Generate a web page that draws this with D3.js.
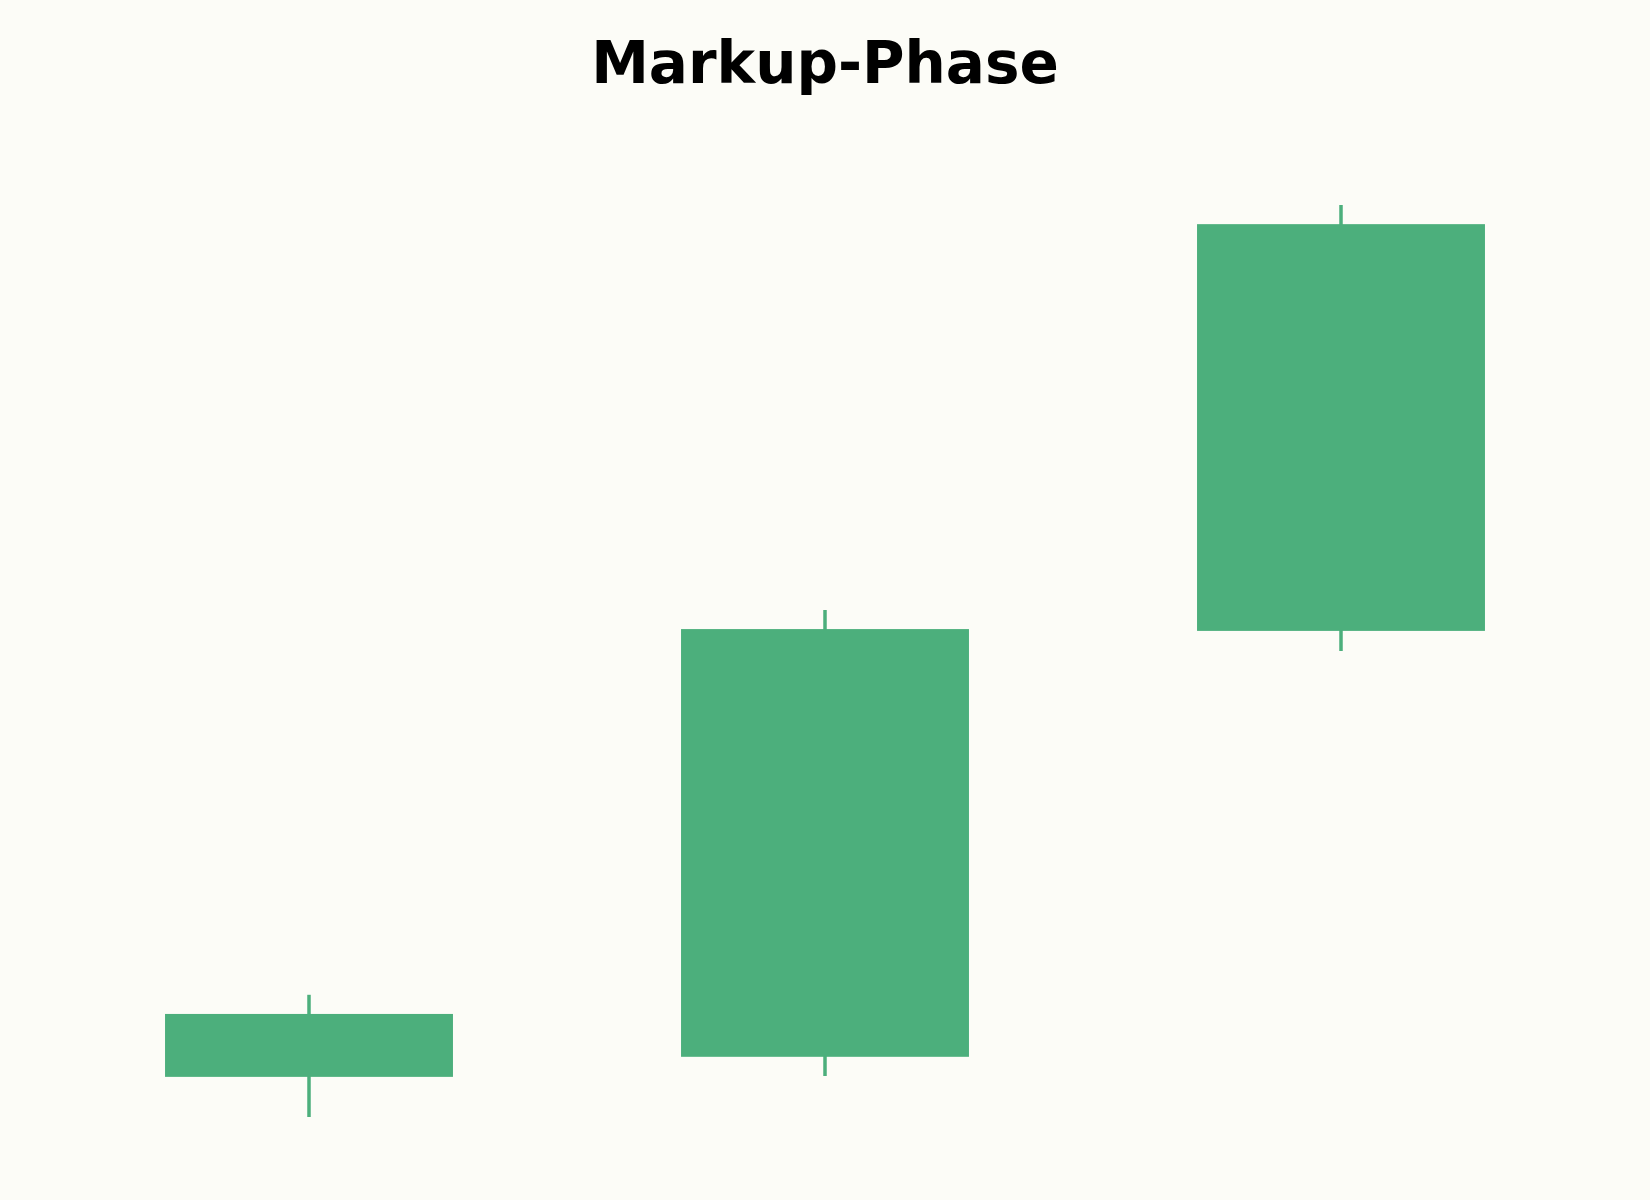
<!DOCTYPE html>
<html>
<head>
<meta charset="utf-8">
<script src="https://cdn.jsdelivr.net/npm/d3@7"></script>
<style>
  html, body { margin: 0; padding: 0; background: #fcfcf7; }
</style>
</head>
<body>
<div id="chart"></div>
<script>
// candles of the markup phase
const days = ["Tag 1", "Tag 2", "Tag 3"];
const opens = [104.4, 106.6, 153.3];
const highs = [113.4, 155.6, 200.0];
const lows = [100.0, 104.5, 151.1];
const closes = [111.3, 153.5, 197.9];

let width = 1650, height = 1200;
let margin = {top: 205, right: 51, bottom: 83, left: 51};
let up = "#4caf7c";

let svg = d3.select("#chart").append("svg")
    .attr("width", width)
    .attr("height", height)
    .style("background", "#fcfcf7");

let x = d3.scalePoint()
    .domain(days)
    .range([margin.left, width - margin.right])
    .padding(0.5);

let y = d3.scaleLinear()
    .domain([d3.min(lows), d3.max(highs)])
    .range([height - margin.bottom, margin.top]);

let boxW = x.step() * 0.558;

let candles = days.map((d, i) => ({day: d, o: opens[i], h: highs[i], l: lows[i], c: closes[i]}));

let g = svg.append("g");

// wicks first, the body covers them
g.selectAll("line.wick")
    .data(candles)
    .join("line")
    .attr("class", "wick")
    .attr("x1", d => x(d.day))
    .attr("x2", d => x(d.day))
    .attr("y1", d => y(d.h))
    .attr("y2", d => y(d.l))
    .attr("stroke", up)
    .attr("stroke-width", 3.5);

g.selectAll("rect.body")
    .data(candles)
    .join("rect")
    .attr("class", "body")
    .attr("x", d => x(d.day) - boxW / 2)
    .attr("width", boxW)
    .attr("y", d => y(Math.max(d.o, d.c)))
    .attr("height", d => Math.abs(y(d.o) - y(d.c)))
    .attr("fill", up);

svg.append("text")
    .attr("x", width / 2)
    .attr("y", 83)
    .attr("text-anchor", "middle")
    .style("font-family", "DejaVu Sans")
    .style("font-weight", "bold")
    .style("font-size", "58px")
    .attr("fill", "#000")
    .text("Markup-Phase");
</script>
</body>
</html>
